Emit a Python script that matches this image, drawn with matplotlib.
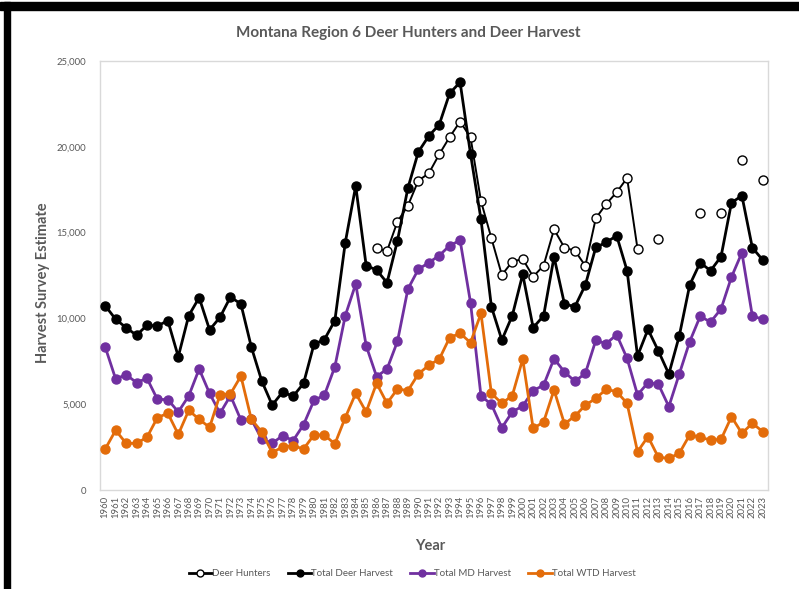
import matplotlib.pyplot as plt
import numpy as np
from matplotlib.lines import Line2D
from matplotlib.patches import Rectangle

"Montana Region 6 deer hunters and deer harvest"

plt.rcParams['font.family'] = ['Lato', 'DejaVu Sans']

years = list(range(1960, 2024))

# Deer hunters (gaps where no survey value is shown)
hunters = {
    1986: 14080, 1987: 13930, 1988: 15640, 1989: 16570, 1990: 18030,
    1991: 18450, 1992: 19560, 1993: 20570, 1994: 21470, 1995: 20550,
    1996: 16840, 1997: 14670, 1998: 12530, 1999: 13310, 2000: 13460,
    2001: 12430, 2002: 13080, 2003: 15190, 2004: 14120, 2005: 13950,
    2006: 13060, 2007: 15830, 2008: 16670, 2009: 17350, 2010: 18180,
    2011: 14050, 2013: 14610, 2017: 16160, 2019: 16160, 2021: 19230,
    2023: 18070,
}

total_harvest = [
    10740, 9950, 9460, 9020, 9600, 9560, 9870, 7770, 10160, 11210,
    9330, 10070, 11250, 10840, 8330, 6350, 4950, 5710, 5460, 6210,
    8490, 8770, 9870, 14420, 17720, 13080, 12820, 12080, 14530, 17600,
    19700, 20630, 21290, 23120, 23760, 19580, 15780, 10680, 8740, 10160,
    12570, 9460, 10150, 13580, 10840, 10680, 11950, 14140, 14430, 14820,
    12780, 7810, 9360, 8100, 6760, 8980, 11950, 13250, 12780, 13600,
    16740, 17150, 14120, 13400,
]

md_harvest = [
    8330, 6470, 6720, 6260, 6510, 5280, 5270, 4550, 5480, 7050,
    5630, 4470, 5500, 4080, 4120, 2950, 2720, 3170, 2880, 3800,
    5220, 5530, 7180, 10160, 12010, 8410, 6610, 7050, 8660, 11710,
    12860, 13250, 13660, 14240, 14550, 10920, 5480, 4990, 3630, 4550,
    4900, 5790, 6110, 7650, 6880, 6330, 6800, 8720, 8530, 9050,
    7670, 5540, 6260, 6160, 4860, 6760, 8650, 10120, 9790, 10550,
    12410, 13830, 10140, 9950,
]

wtd_harvest = [
    2390, 3480, 2720, 2720, 3070, 4220, 4470, 3240, 4640, 4120,
    3650, 5560, 5600, 6640, 4120, 3380, 2180, 2510, 2580, 2390,
    3210, 3210, 2680, 4220, 5630, 4550, 6220, 5050, 5890, 5790,
    6760, 7270, 7620, 8880, 9130, 8590, 10290, 5630, 5050, 5500,
    7630, 3590, 3960, 5830, 3850, 4310, 4940, 5340, 5870, 5730,
    5050, 2230, 3110, 1900, 1850, 2140, 3210, 3070, 2910, 2950,
    4270, 3300, 3890, 3400,
]

hunter_vals = np.array([hunters.get(y, np.nan) for y in years], dtype=float)

grey = '#595959'
purple = '#7030A0'
orange = '#E36C0A'

fig = plt.figure(figsize=(7.99, 5.89), dpi=100)
ax = fig.add_axes([100 / 799, 1 - 490 / 589, 668 / 799, 429 / 589])

x = np.arange(len(years))
ax.plot(x, hunter_vals, color='black', lw=1.4, marker='o', ms=6.5,
        mfc='white', mec='black', mew=1.0, zorder=3)
ax.plot(x, total_harvest, color='black', lw=2.0, marker='o', ms=6.5, zorder=4)
ax.plot(x, md_harvest, color=purple, lw=2.0, marker='o', ms=6.5, zorder=5)
ax.plot(x, wtd_harvest, color=orange, lw=2.0, marker='o', ms=6.5, zorder=6)

ax.set_xlim(-0.5, len(years) - 0.5)
ax.set_ylim(0, 25000)
ax.set_yticks(range(0, 25001, 5000))
ax.set_yticklabels([f"{v:,}" for v in range(0, 25001, 5000)])
ax.set_xticks(x)
ax.set_xticklabels([str(y) for y in years], rotation=90)
ax.tick_params(axis='both', length=0, labelsize=6.8, colors=grey, pad=4)
ax.tick_params(axis='y', pad=10)
for s in ax.spines.values():
    s.set_color('#d9d9d9')
    s.set_linewidth(1.0)

fig.text(0.511, 1 - 33 / 589, 'Montana Region 6 Deer Hunters and Deer Harvest',
         ha='center', va='center', fontsize=11, fontweight='bold', color=grey)
fig.text(43 / 799, 1 - 283 / 589, 'Harvest Survey Estimate', rotation=90,
         ha='center', va='center', fontsize=10.5, fontweight='bold', color=grey)
fig.text(430 / 799, 1 - 546 / 589, 'Year', ha='center', va='center',
         fontsize=10.5, fontweight='bold', color=grey)

handles = [
    Line2D([], [], color='black', lw=2.0, marker='o', ms=5, mfc='white', mec='black'),
    Line2D([], [], color='black', lw=2.0, marker='o', ms=5),
    Line2D([], [], color=purple, lw=2.0, marker='o', ms=5),
    Line2D([], [], color=orange, lw=2.0, marker='o', ms=5),
]
labels = ['Deer Hunters', 'Total Deer Harvest', 'Total MD Harvest', 'Total WTD Harvest']
leg = fig.legend(handles, labels, loc='center', bbox_to_anchor=(412 / 799, 1 - 574 / 589),
                 ncol=4, frameon=False, fontsize=7, handlelength=2.4,
                 handletextpad=0.0, columnspacing=1.8)
for t in leg.get_texts():
    t.set_color(grey)

# screenshot frame
fig.patches.append(Rectangle((0, 1 - 10 / 589), 1, 8 / 589, transform=fig.transFigure,
                             color='black', zorder=10))
fig.patches.append(Rectangle((4 / 799, 0), 6 / 799, 1 - 2 / 589, transform=fig.transFigure,
                             color='black', zorder=10))

fig.savefig('out.png', dpi=100)
